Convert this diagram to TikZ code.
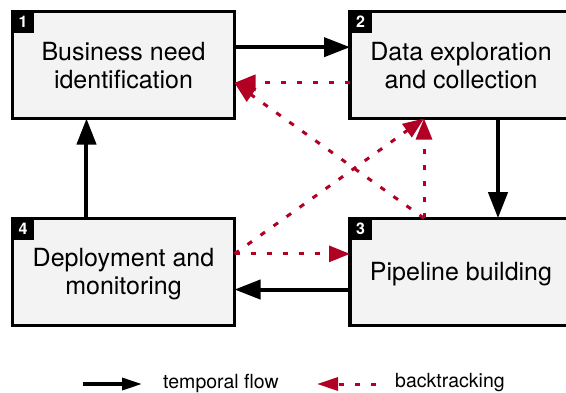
\documentclass[tikz,border=0pt]{standalone}
\usepackage{fontspec}
\setmainfont{TeX Gyre Heros}
\usetikzlibrary{arrows.meta,calc}
\definecolor{btred}{RGB}{178,0,36}
\definecolor{boxfill}{RGB}{243,243,243}
\begin{document}
\begin{tikzpicture}[x=1pt,y=-1pt,
  stagebox/.style={draw=black,line width=3.3pt,fill=boxfill,minimum width=222pt,minimum height=107pt,
    inner sep=0pt,outer sep=0pt,align=center,font=\fontsize{25}{28}\selectfont,text depth=0pt},
  badge/.style={fill=black,minimum size=22.5pt,inner sep=0pt,outer sep=0pt,anchor=north west,
    text=white,font=\fontsize{16}{16}\selectfont\bfseries},
  flow/.style={draw=black,line width=4pt,-{Triangle[length=26pt,width=19pt]}},
  back/.style={draw=btred,line width=3pt,dash pattern=on 5.5pt off 10.5pt,
    -{Triangle[length=21pt,width=16pt]}},
  legflow/.style={draw=black,line width=3.3pt,-{Triangle[length=20pt,width=12pt]}},
  legback/.style={draw=btred,line width=3pt,dash pattern=on 5.5pt off 10.5pt,
    -{Triangle[length=21pt,width=13pt]}},
  legtext/.style={anchor=west,inner sep=0pt,font=\fontsize{19.5}{19.5}\selectfont},
]
\useasboundingbox (0,0) rectangle (566,392);
\clip (0,0) rectangle (566,392);

\node[stagebox] (b1) at (123.5,65) {Business need\\identification};
\node[stagebox] (b2) at (461,65) {Data exploration\\and collection};
\node[stagebox] (b3) at (461,271.7) {Pipeline building};
\node[stagebox] (b4) at (123.5,271.7) {Deployment and\\monitoring};

\node[badge] (n1) at ($(b1.north west)+(-0.8,-0.6)$) {1};
\node[badge] (n2) at ($(b2.north west)+(-0.8,-0.6)$) {2};
\node[badge] (n3) at ($(b3.north west)+(-0.8,-0.6)$) {3};
\node[badge] (n4) at ($(b4.north west)+(-0.8,-0.6)$) {4};

% anchor points on the box borders
\coordinate (e1a) at ($(b1.north east)!1/3!(b1.south east)$);
\coordinate (e1b) at ($(b1.north east)!2/3!(b1.south east)$);
\coordinate (w2a) at ($(b2.north west)!1/3!(b2.south west)$);
\coordinate (w2b) at ($(b2.north west)!2/3!(b2.south west)$);
\coordinate (s2a) at ($(b2.south west)!1/3!(b2.south east)$);
\coordinate (s2b) at ($(b2.south west)!2/3!(b2.south east)$);
\coordinate (n3a) at ($(b3.north west)!1/3!(b3.north east)$);
\coordinate (n3b) at ($(b3.north west)!2/3!(b3.north east)$);
\coordinate (w3b) at ($(b3.north west)!2/3!(b3.south west)$);
\coordinate (e4a) at ($(b4.north east)!1/3!(b4.south east)$);
\coordinate (e4b) at ($(b4.north east)!2/3!(b4.south east)$);
\coordinate (n4a) at ($(b4.north west)!1/3!(b4.north east)$);
\coordinate (s1a) at ($(b1.south west)!1/3!(b1.south east)$);

% temporal flow
\draw[flow] (e1a) -- (w2a);
\draw[flow] (s2b) -- (n3b);
\draw[flow] (w3b) -- (e4b);
\draw[flow] (n4a) -- (s1a);

% backtracking
\draw[back] (w2b) -- (e1b);
\draw[back] (n3a) -- (e1b);
\draw[back] (e4a) -- (e4a -| b3.west);
\draw[back] (e4a) -- (s2a);
\draw[back] (n3a) -- (s2a);

% legend
\coordinate (lf1) at (83,384);
\coordinate (lf2) at (142,384);
\coordinate (lb1) at (376,384);
\coordinate (lb2) at (317,384);
\draw[legflow] (lf1) -- (lf2);
\node[legtext] (lt1) at (163,383) {temporal flow};
\draw[legback] (lb1) -- (lb2);
\node[legtext] (lt2) at (395,383) {backtracking};
\end{tikzpicture}
\end{document}
